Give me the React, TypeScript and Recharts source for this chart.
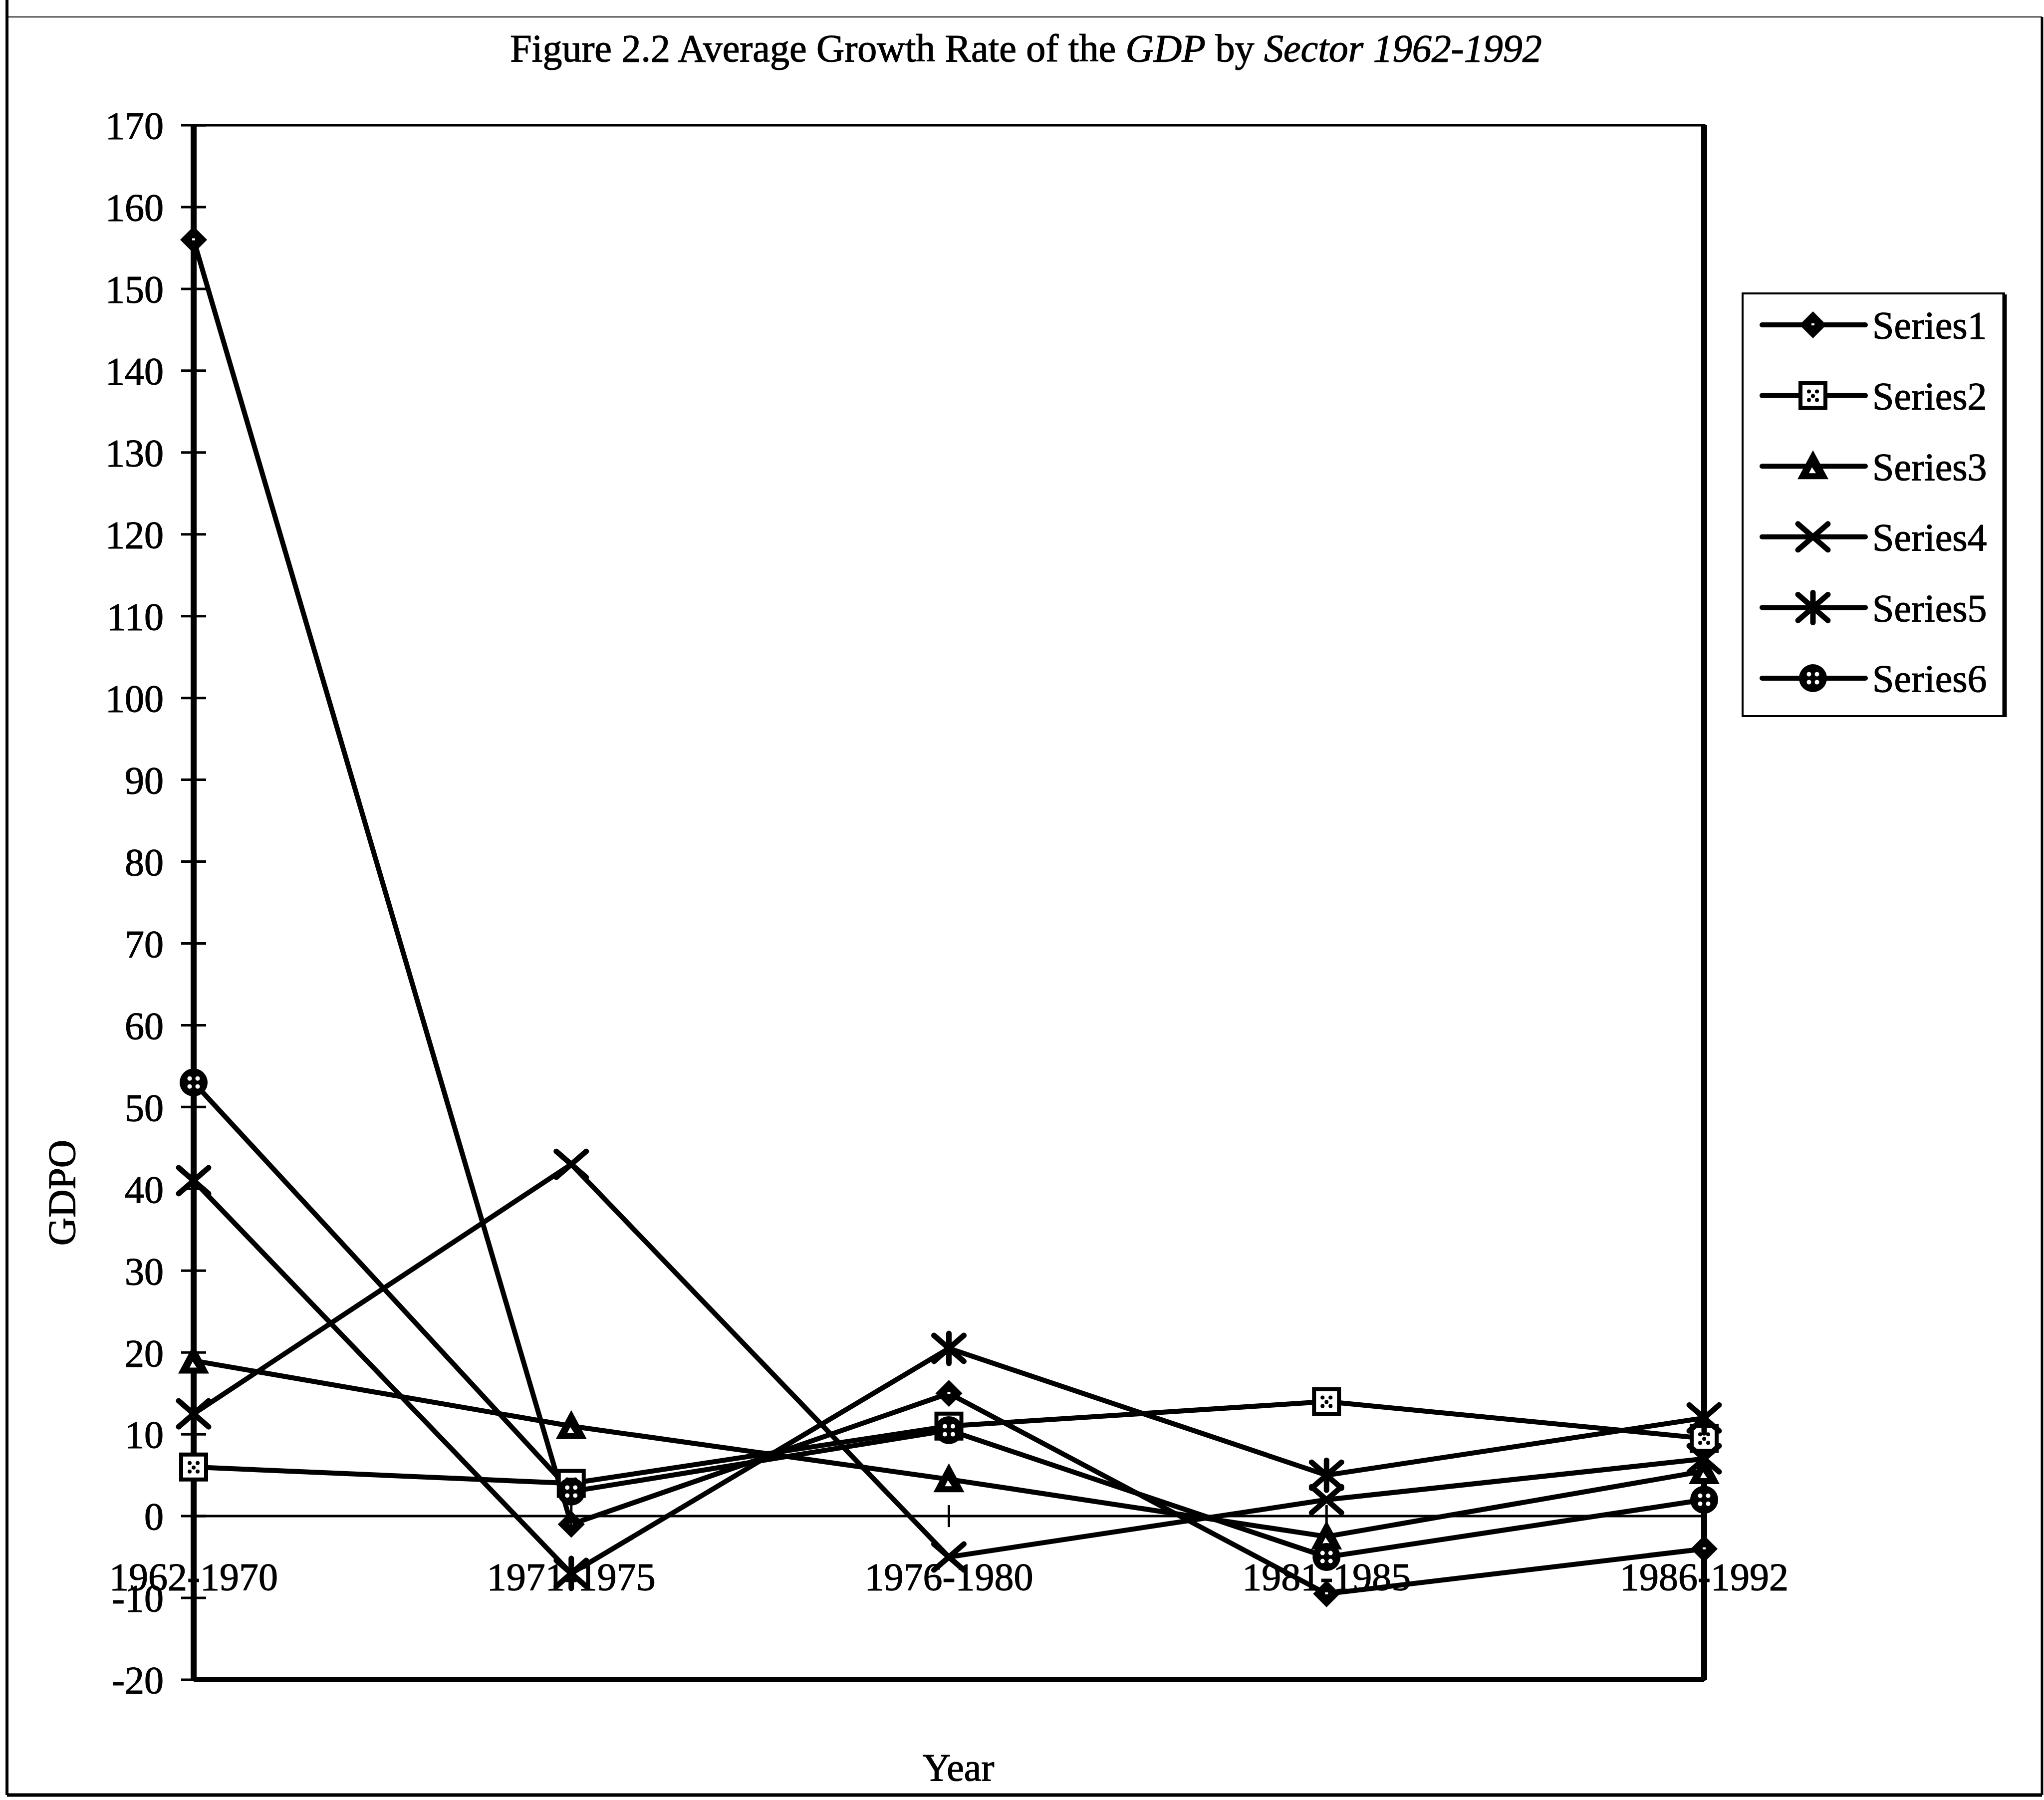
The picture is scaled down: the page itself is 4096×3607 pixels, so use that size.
import React from "react";
import {
  LineChart,
  Line,
  XAxis,
  YAxis,
  Legend,
  Label,
  ReferenceLine,
  ReferenceArea,
} from "recharts";

const periods = ["1962-1970", "1971-1975", "1976-1980", "1981-1985", "1986-1992"];
const series1 = [156, -1, 15, -9.5, -4];
const series2 = [6, 4, 11, 14, 9.5];
const series3 = [19, 11, 4.5, -2.5, 5.5];
const series4 = [12.5, 43, -5, 2, 7];
const series5 = [41, -7, 20.5, 5, 12];
const series6 = [53, 3, 10.5, -5, 2];
const yTicks = [-20, -10, 0, 10, 20, 30, 40, 50, 60, 70, 80, 90, 100, 110, 120, 130, 140, 150, 160, 170];

const seriesNames = ["Series1", "Series2", "Series3", "Series4", "Series5", "Series6"];
const markerKinds = ["diamond", "square", "triangle", "x", "star", "circle"];

const data = periods.map((period, i) => ({
  period,
  Series1: series1[i],
  Series2: series2[i],
  Series3: series3[i],
  Series4: series4[i],
  Series5: series5[i],
  Series6: series6[i],
}));

const W = 4096;
const H = 3607;
const PLOT_LEFT = 388;
const PLOT_RIGHT = 3415;
const PLOT_TOP = 251;
const PLOT_BOTTOM = 3366;
const Y_MIN = -20;
const Y_MAX = 170;
const FONT = '"Liberation Serif", "Times New Roman", serif';
const FS = 78;

const textStyle = { fontFamily: FONT, fontSize: FS, fill: "#000", stroke: "#000", strokeWidth: 1.2 };

const Marker = ({ kind, cx, cy }: { kind: string; cx: number; cy: number }) => {
  if (cx == null || cy == null) return null;
  switch (kind) {
    case "diamond":
      return (
        <g>
          <polygon points={`${cx},${cy - 27} ${cx + 27},${cy} ${cx},${cy + 27} ${cx - 27},${cy}`} fill="#000" />
          <rect x={cx - 3} y={cy - 3} width={6} height={4} fill="#fff" />
        </g>
      );
    case "square":
      return (
        <g>
          <rect x={cx - 25} y={cy - 25} width={50} height={50} fill="#fff" stroke="#000" strokeWidth={8} />
          <circle cx={cx - 8} cy={cy - 8} r={4} fill="#000" />
          <circle cx={cx + 8} cy={cy - 8} r={4} fill="#000" />
          <circle cx={cx} cy={cy + 1} r={4} fill="#000" />
          <circle cx={cx - 8} cy={cy + 9} r={4} fill="#000" />
          <circle cx={cx + 8} cy={cy + 9} r={4} fill="#000" />
        </g>
      );
    case "triangle":
      return (
        <g>
          <polygon points={`${cx},${cy - 32} ${cx + 31},${cy + 26} ${cx - 31},${cy + 26}`} fill="#000" />
          <polygon points={`${cx - 2},${cy + 2} ${cx + 6},${cy + 14} ${cx - 8},${cy + 14}`} fill="#fff" />
        </g>
      );
    case "x":
      return (
        <g stroke="#000" strokeWidth={11} strokeLinecap="round">
          <line x1={cx - 30} y1={cy - 26} x2={cx + 30} y2={cy + 26} />
          <line x1={cx - 30} y1={cy + 26} x2={cx + 30} y2={cy - 26} />
        </g>
      );
    case "star":
      return (
        <g stroke="#000" strokeWidth={11} strokeLinecap="round">
          <line x1={cx - 30} y1={cy - 26} x2={cx + 30} y2={cy + 26} />
          <line x1={cx - 30} y1={cy + 26} x2={cx + 30} y2={cy - 26} />
          <line x1={cx} y1={cy - 30} x2={cx} y2={cy + 30} />
        </g>
      );
    default:
      return (
        <g>
          <circle cx={cx} cy={cy} r={28} fill="#000" />
          <circle cx={cx - 8} cy={cy - 8} r={4.5} fill="#fff" />
          <circle cx={cx + 8} cy={cy - 8} r={4.5} fill="#fff" />
          <circle cx={cx - 8} cy={cy + 8} r={4.5} fill="#fff" />
          <circle cx={cx + 8} cy={cy + 8} r={4.5} fill="#fff" />
        </g>
      );
  }
};

const zeroOffset = ((0 - Y_MIN) / (Y_MAX - Y_MIN)) * (PLOT_BOTTOM - PLOT_TOP);

const XTick = ({ x, y, payload }: any) => {
  const zeroY = y - zeroOffset;
  return (
    <g>
      <line x1={x} x2={x} y1={zeroY - 22} y2={zeroY + 22} stroke="#000" strokeWidth={5} />
      <text x={x} y={zeroY + 148} textAnchor="middle" style={textStyle}>
        {payload.value}
      </text>
    </g>
  );
};

const YTick = ({ x, y, payload }: any) => (
  <g>
    <line x1={x - 25} x2={x + 25} y1={y} y2={y} stroke="#000" strokeWidth={5} />
    <text x={x - 60} y={y} dy="0.35em" textAnchor="end" style={textStyle}>
      {payload.value}
    </text>
  </g>
);

const LEG_X = 3490;
const LEG_Y = 586;
const LEG_W = 530;
const LEG_H = 851;

const renderLegend = () => (
  <svg width={LEG_W + 8} height={LEG_H + 8}>
    <rect x={2} y={2} width={LEG_W - 6} height={LEG_H - 4} fill="#fff" stroke="#000" strokeWidth={4} />
    <line x1={LEG_W - 3} x2={LEG_W - 3} y1={4} y2={LEG_H} stroke="#000" strokeWidth={9} />
    {seriesNames.map((name, i) => {
      const cy = 65 + i * 141.6;
      return (
        <g key={name}>
          <line x1={41} x2={248} y1={cy} y2={cy} stroke="#000" strokeWidth={10} strokeLinecap="round" />
          <Marker kind={markerKinds[i]} cx={143} cy={cy} />
          <text x={262} y={cy} dy="0.35em" style={textStyle}>
            {name}
          </text>
        </g>
      );
    })}
  </svg>
);

export default function App() {
  return (
    <div style={{ position: "absolute", left: 0, top: 0, width: W, height: H, background: "#fff" }}>
      <LineChart
        width={W}
        height={H}
        data={data}
        margin={{ top: PLOT_TOP, right: W - PLOT_RIGHT, bottom: 0, left: 0 }}
      >
        <ReferenceArea
          x1={periods[0]}
          x2={periods[periods.length - 1]}
          y1={Y_MIN}
          y2={Y_MAX}
          fill="none"
          stroke="#000"
          strokeWidth={5}
          ifOverflow="visible"
        />
        <ReferenceLine y={0} stroke="#000" strokeWidth={5} />
        <ReferenceLine x={periods[periods.length - 1]} stroke="#000" strokeWidth={12} />
        <XAxis
          dataKey="period"
          height={H - PLOT_BOTTOM}
          tickSize={0}
          tickMargin={0}
          interval={0}
          padding={{ left: 0, right: 0 }}
          axisLine={{ stroke: "#000", strokeWidth: 10 }}
          tickLine={false}
          tick={<XTick />}
        >
          <Label
            content={() => (
              <text x={(PLOT_LEFT + PLOT_RIGHT) / 2 + 19} y={3568} textAnchor="middle" style={textStyle}>
                Year
              </text>
            )}
          />
        </XAxis>
        <YAxis
          domain={[Y_MIN, Y_MAX]}
          ticks={yTicks}
          interval={0}
          width={PLOT_LEFT}
          tickSize={0}
          tickMargin={0}
          axisLine={{ stroke: "#000", strokeWidth: 12 }}
          tickLine={false}
          tick={<YTick />}
        >
          <Label
            content={() => (
              <text
                x={123}
                y={2390}
                textAnchor="middle"
                dominantBaseline="central"
                transform="rotate(-90 123 2390)"
                style={textStyle}
              >
                GDPO
              </text>
            )}
          />
        </YAxis>
        <Legend
          layout="horizontal"
          verticalAlign="middle"
          align="center"
          wrapperStyle={{ position: "absolute", left: LEG_X, top: LEG_Y, width: LEG_W + 8, height: LEG_H + 8 }}
          content={renderLegend}
        />
        {seriesNames.map((name, i) => (
          <Line
            key={name}
            dataKey={name}
            stroke="#000"
            strokeWidth={10}
            strokeLinejoin="round"
            isAnimationActive={false}
            dot={(p: any) => <Marker key={`${name}-${p.index}`} kind={markerKinds[i]} cx={p.cx} cy={p.cy} />}
            activeDot={false}
          />
        ))}
      </LineChart>
      <svg
        width={W}
        height={H}
        style={{ position: "absolute", left: 0, top: 0, pointerEvents: "none" }}
      >
        <text x={2056} y={123} textAnchor="middle" style={textStyle}>
          Figure 2.2 Average Growth Rate of the <tspan fontStyle="italic">GDP</tspan> by{" "}
          <tspan fontStyle="italic">Sector 1962-1992</tspan>
        </text>
        <line x1={14} x2={14} y1={0} y2={3597} stroke="#000" strokeWidth={6} />
        <line x1={14} x2={4092} y1={3597} y2={3597} stroke="#000" strokeWidth={7} />
        <line x1={4092} x2={4092} y1={34} y2={3597} stroke="#000" strokeWidth={5} />
        <line x1={14} x2={4092} y1={34} y2={34} stroke="#000" strokeWidth={2} />
      </svg>
    </div>
  );
}
